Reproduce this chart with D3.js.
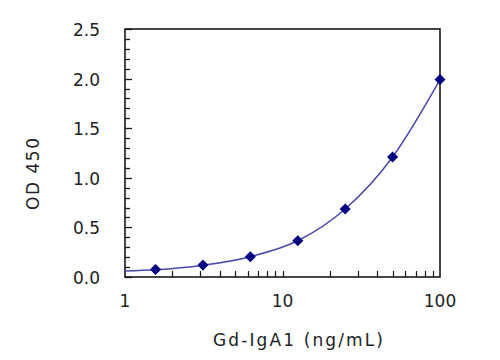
<!DOCTYPE html>
<html><head><meta charset="utf-8">
<script src="https://cdn.jsdelivr.net/npm/d3@7"></script>
<style>body{margin:0;background:#fff}svg{display:block}</style>
</head><body>
<script>
const concentrations = [1.5625, 3.125, 6.25, 12.5, 25, 50, 100];
const odValues = [0.075, 0.12, 0.205, 0.365, 0.685, 1.21, 1.99];
const fitX = [1, 1.5625, 3.125, 6.25, 12.5, 25, 50, 100];
const fitY = [0.06, 0.072, 0.118, 0.205, 0.365, 0.685, 1.21, 1.99];
const xTickLabels = [1, 10, 100];
const yTickLabels = ["0.0", "0.5", "1.0", "1.5", "2.0", "2.5"];

const W = 500, H = 360;
const m = {l:125, r:60, t:29, b:83};
const svg = d3.select("body").append("svg").attr("width", W).attr("height", H);
const x = d3.scaleLog().domain([1, 100]).range([m.l, W - m.r]);
const y = d3.scaleLinear().domain([0, 2.5]).range([H - m.b, m.t]);
const font = "'DejaVu Sans', 'Liberation Sans', sans-serif";
const ink = "#1a1a1a";

// frame
svg.append("rect").attr("x", m.l).attr("y", m.t)
  .attr("width", x(100) - m.l).attr("height", y(0) - m.t)
  .attr("fill", "none").attr("stroke", ink).attr("stroke-width", 1.6);

// y axis ticks (inward)
const yMinor = d3.range(0, 26).map(i => i / 10);
svg.append("g").selectAll("line").data(yMinor).join("line")
  .attr("x1", m.l).attr("x2", (d, i) => m.l + (i % 5 === 0 ? 7 : 5))
  .attr("y1", d => Math.round(y(d)) + 0.5).attr("y2", d => Math.round(y(d)) + 0.5)
  .attr("stroke", ink).attr("stroke-width", 1.3);
svg.append("g").selectAll("text").data(yTickLabels).join("text")
  .attr("x", 100).attr("y", d => y(+d) + 7)
  .attr("text-anchor", "end").attr("font-family", font).attr("font-size", 17)
  .attr("fill", "#222").text(d => d);

// x axis ticks (inward)
const xMinor = [];
[1, 10].forEach(dec => { for (let k = 2; k <= 9; k++) xMinor.push(k * dec); });
xMinor.push(10);
svg.append("g").selectAll("line").data(xMinor).join("line")
  .attr("x1", d => Math.round(x(d)) + 0.5).attr("x2", d => Math.round(x(d)) + 0.5)
  .attr("y1", y(0)).attr("y2", y(0) - 6)
  .attr("stroke", ink).attr("stroke-width", 1.2);
svg.append("g").selectAll("text").data(xTickLabels).join("text")
  .attr("x", d => x(d)).attr("y", 307)
  .attr("text-anchor", "middle").attr("font-family", font).attr("font-size", 17)
  .attr("fill", "#222").text(d => d);

// axis titles
svg.append("text").attr("x", 213).attr("y", 346)
  .attr("font-family", font).attr("font-size", 17).attr("fill", "#222")
  .attr("textLength", 170).attr("lengthAdjust", "spacing")
  .text("Gd-IgA1 (ng/mL)");
svg.append("text").attr("transform", "translate(39,210) rotate(-90)")
  .attr("font-family", font).attr("font-size", 17)
  .attr("textLength", 72).attr("lengthAdjust", "spacing")
  .attr("fill", "#222").text("OD 450");

// fitted curve
const fit = fitX.map((v, i) => [v, fitY[i]]);
svg.append("path").datum(fit)
  .attr("d", d3.line().x(d => x(d[0])).y(d => y(d[1])).curve(d3.curveMonotoneX))
  .attr("fill", "none").attr("stroke", "#4848a8").attr("stroke-width", 1.5);

// markers
svg.append("g").selectAll("path").data(concentrations).join("path")
  .attr("transform", (d, i) => `translate(${x(d)},${y(odValues[i])})`)
  .attr("d", d3.symbol().type(d3.symbolDiamond2).size(78))
  .attr("fill", "#000080");
</script>
</body></html>
